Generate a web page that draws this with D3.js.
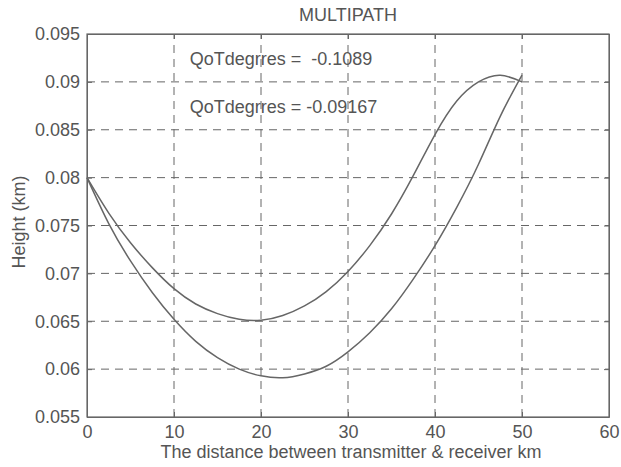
<!DOCTYPE html>
<html>
<head>
<meta charset="utf-8">
<script src="https://cdn.jsdelivr.net/npm/d3@7/dist/d3.min.js"></script>
<style>
  html, body { margin: 0; padding: 0; background: #ffffff; }
  svg { display: block; }
  text { font-family: "Liberation Sans", Arial, sans-serif; fill: #555; }
</style>
</head>
<body>
<svg id="chart" width="621" height="467"></svg>
<script>
// Distance along the path (km)
const distance = [0, 2.5, 5, 7.5, 10, 12.5, 15, 17.5, 20, 22.5, 25, 27.5, 30, 32.5, 35, 37.5, 40, 42.5, 45, 47.5, 50];
// Ray heights (km) for the two launch angles
const heightA = [0.0800, 0.0763, 0.0732, 0.0706, 0.0684, 0.0668, 0.0658, 0.0652, 0.0651, 0.0656, 0.0666, 0.0681, 0.0702, 0.0729, 0.0762, 0.0802, 0.0845, 0.0880, 0.0900, 0.0907, 0.0900];
const heightB = [0.0800, 0.0752, 0.0713, 0.0680, 0.0652, 0.0629, 0.0612, 0.0600, 0.0593, 0.0591, 0.0595, 0.0603, 0.0618, 0.0638, 0.0663, 0.0694, 0.0729, 0.0769, 0.0814, 0.0864, 0.0907];
const xTicks = [0, 10, 20, 30, 40, 50, 60];
const yTicks = [0.055, 0.06, 0.065, 0.07, 0.075, 0.08, 0.085, 0.09, 0.095];
const annotations = ["QoTdegrres =  -0.1089", "QoTdegrres = -0.09167"];
const annotationY = [0.09176, 0.08675];
const annotationX = 11.8;

const svg = d3.select("#chart");
const W = 621, H = 467;
const m = { left: 87, right: 12, top: 34, bottom: 50 };
const iw = W - m.left - m.right, ih = H - m.top - m.bottom;
const fs = "18px";

const x = d3.scaleLinear().domain([0, 60]).range([0, iw]);
const y = d3.scaleLinear().domain([0.055, 0.095]).range([ih, 0]);

const g = svg.append("g").attr("transform", `translate(${m.left},${m.top})`);
const ink = "#666";

// dashed grid
g.append("g").selectAll("line").data(xTicks.slice(1, -1)).join("line")
  .attr("x1", d => x(d)).attr("x2", d => x(d)).attr("y1", ih).attr("y2", 0)
  .attr("stroke", ink).attr("stroke-width", 1).attr("stroke-dasharray", "8,6");
g.append("g").selectAll("line").data(yTicks.slice(1, -1)).join("line")
  .attr("x1", 0).attr("x2", iw).attr("y1", d => y(d)).attr("y2", d => y(d))
  .attr("stroke", ink).attr("stroke-width", 1).attr("stroke-dasharray", "8,6");

// axes with inward ticks
const fmtY = d => d3.format(".3~f")(d);
g.append("g").attr("transform", `translate(0,${ih})`)
  .call(d3.axisBottom(x).tickValues(xTicks).tickSizeInner(-5).tickSizeOuter(0).tickPadding(8));
g.append("g")
  .call(d3.axisLeft(y).tickValues(yTicks).tickFormat(fmtY).tickSizeInner(-5).tickSizeOuter(0).tickPadding(7));
g.append("g").call(d3.axisTop(x).tickValues(xTicks).tickSizeInner(-5).tickSizeOuter(0).tickFormat(""));
g.append("g").attr("transform", `translate(${iw},0)`)
  .call(d3.axisRight(y).tickValues(yTicks).tickSizeInner(-5).tickSizeOuter(0).tickFormat(""));
g.selectAll(".domain, .tick line").attr("stroke", ink).attr("stroke-width", 1);
g.selectAll(".tick text").attr("fill", "#555").style("font-size", fs)
  .style("font-family", '"Liberation Sans", Arial, sans-serif');

// frame
g.append("rect").attr("x", 0).attr("y", 0).attr("width", iw).attr("height", ih)
  .attr("fill", "none").attr("stroke", ink).attr("stroke-width", 1.2);

// ray paths
const line = d3.line().x((d, i) => x(distance[i])).y(d => y(d)).curve(d3.curveNatural);
[heightA, heightB].forEach(s => {
  g.append("path").datum(s).attr("d", line)
    .attr("fill", "none").attr("stroke", "#666").attr("stroke-width", 1.5);
});

// annotations
g.selectAll(".ann").data(annotations).join("text").attr("class", "ann")
  .attr("x", x(annotationX)).attr("y", (d, i) => y(annotationY[i]))
  .style("font-size", fs).style("white-space", "pre").text(d => d);

// title and axis labels
svg.append("text").attr("x", m.left + iw / 2).attr("y", 21).attr("text-anchor", "middle")
  .style("font-size", fs).text("MULTIPATH");
svg.append("text").attr("x", m.left + iw / 2 + 3).attr("y", 458).attr("text-anchor", "middle")
  .style("font-size", fs).text("The distance between transmitter & receiver km");
svg.append("text").attr("transform", `translate(25,222) rotate(-90)`)
  .attr("text-anchor", "middle").style("font-size", fs).text("Height (km)");
</script>
</body>
</html>
